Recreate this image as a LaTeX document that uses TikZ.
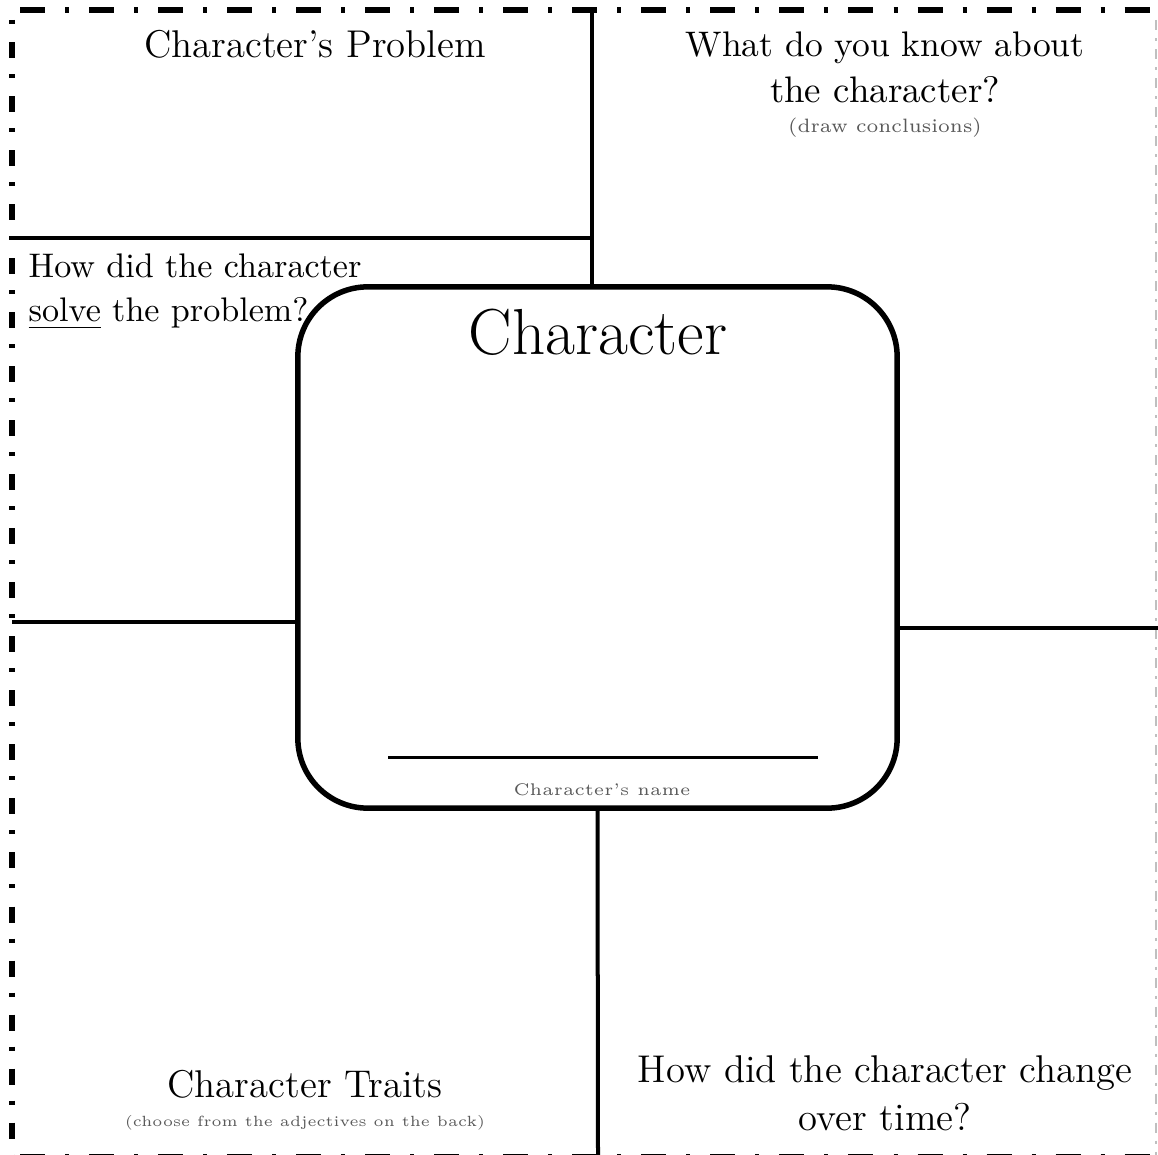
\documentclass[tikz,border=0pt]{standalone}
\usetikzlibrary{positioning}

\begin{document}
\begin{tikzpicture}[x=0.01cm,y=-0.01cm,
                    divider/.style={line width=0.04cm},
                    topborder/.style={line width=0.055cm,
                                      dash pattern=on 0.25cm off 0.2cm on 0.04cm off 0.2cm
                                     },
                    sideborder/.style={line width=0.05cm,
                                       dash pattern=on 0.04cm off 0.18cm on 0.16cm off 0.16cm
                                      },
                    charbox/.style={draw=black, line width=0.055cm,
                                    rounded corners=0.7cm,
                                    minimum width=5.99cm, minimum height=5.21cm
                                   },
                    head/.style={font=\fontsize{11}{13}\selectfont, anchor=base, inner sep=0},
                    smallhead/.style={head, font=\fontsize{9.7}{12}\selectfont},
                    note/.style={font=\fontsize{5.3}{6}\selectfont, text=black!65, anchor=base, inner sep=0}
                    ]
  \useasboundingbox (0,0) rectangle (1158,1155);
  % sheet border
  \coordinate (tlcorner) at (20,10);
  \coordinate (trcorner) at (1158,10);
  \coordinate (ltop) at (12,20);
  \coordinate (lbottom) at (12,1155);
  \coordinate (blcorner) at (20,1157);
  \coordinate (brcorner) at (1158,1157);
  \draw [topborder] (tlcorner) -- (trcorner);
  \draw [topborder] (blcorner) -- (brcorner);
  \draw [sideborder] (ltop) -- (lbottom);
  \draw [black!25, line width=0.02cm, dash pattern=on 0.1cm off 0.08cm on 0.03cm off 0.08cm]
        (1156,20) -- (1156,1155);

  % centre box
  \node[charbox] (box) at (597.5,547.5) { };
  \node[font=\fontsize{18.5}{20}\selectfont, anchor=base, inner sep=0] (title) at (598,355) {Character};
  \coordinate (nameleft) at (388,757);
  \coordinate (nameright) at (818,757);
  \draw [line width=0.03cm] (nameleft) -- (nameright);
  \node[note, font=\fontsize{4.8}{6}\selectfont] (name) at (602,795) {Character's name};

  % dividers
  \coordinate (topv) at (592,10);
  \coordinate (tlh) at (12,238);
  \coordinate (lh) at (12,622);
  \coordinate (rh) at (1158,628);
  \coordinate (botv) at (598,1155);
  \draw [divider] (topv) -- (topv |- box.north);
  \draw [divider] (tlh) -- (tlh -| topv);
  \draw [divider] (lh) -- (lh -| box.west);
  \draw [divider] (rh -| box.east) -- (rh);
  \draw [divider] (box.south) -- (botv);

  % headings
  \node[head] (problem) at (315,58) {Character's Problem};
  \node[smallhead, font=\fontsize{10.1}{12}\selectfont] (know1) at (885,57) {What do you know about};
  \node[smallhead, font=\fontsize{10.5}{12}\selectfont] (know2) at (885,103) {the character?};
  \node[note, font=\fontsize{5.5}{6}\selectfont] (concl) at (885,133) {(draw conclusions)};
  \node[smallhead, anchor=base west] (solve1) at (28,278) {How did the character};
  \node[smallhead, anchor=base west] (solve2) at (28,322) {\underline{solve} the problem?};
  \node[head] (traits) at (305,1097) {Character Traits};
  \node[note, font=\fontsize{4.2}{6}\selectfont] (adj) at (305,1126) {(choose from the adjectives on the back)};
  \node[head] (change1) at (885,1082) {How did the character change};
  \node[head] (change2) at (885,1130) {over time?};
\end{tikzpicture}
\end{document}
